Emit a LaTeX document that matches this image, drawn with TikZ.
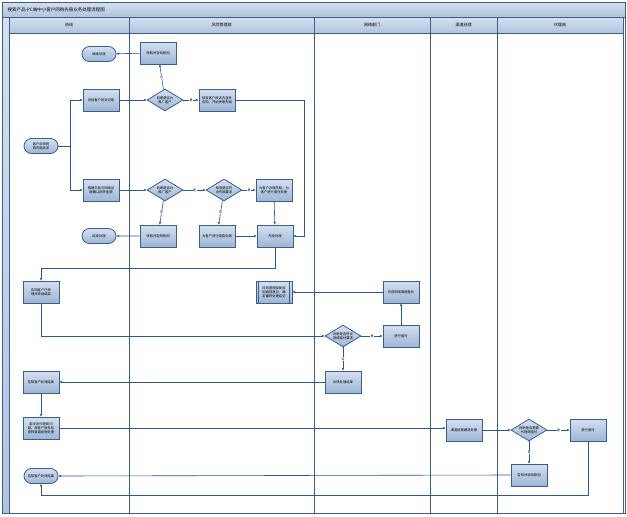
\documentclass[tikz,border=0pt]{standalone}
\usepackage{fontspec}
\newfontfamily\cjk{Noto Sans CJK SC}
\XeTeXlinebreaklocale "zh"
\XeTeXlinebreakskip = 0pt
\usetikzlibrary{shapes.geometric,shapes.misc,arrows.meta}
\definecolor{ln}{HTML}{2F5597}
\definecolor{bd}{HTML}{3A5F8F}
\definecolor{fa}{HTML}{D3E0F0}
\definecolor{fb}{HTML}{9DB5D5}
\begin{document}
\begin{tikzpicture}[x=1pt,y=-1pt,font=\cjk\fontsize{3.3}{4}\selectfont,
 box/.style={draw=bd,line width=0.8pt,top color=fa,bottom color=fb,minimum width=36pt,minimum height=22pt,text width=30pt,align=center,inner sep=1pt},
 term/.style={draw=bd,line width=0.8pt,top color=fa,bottom color=fb,rounded rectangle,minimum width=36pt,minimum height=15pt,text width=30pt,align=center,inner sep=1pt},
 dia/.style={draw=bd,line width=0.8pt,top color=fa,bottom color=fb,diamond,aspect=1.6,minimum width=36pt,minimum height=22pt,inner sep=0pt,text width=20pt,align=center},
 ar/.style={draw=ln,line width=0.6pt,-{Stealth[length=3pt,width=2.5pt]}},
 lab/.style={fill=white,inner sep=0.5pt,font=\cjk\fontsize{3}{3}\selectfont},
 lane/.style={draw=bd,line width=0.9pt},
 hd/.style={draw=bd,line width=0.8pt,top color=fa,bottom color=fb!80}]
\useasboundingbox (0,0) rectangle (627,517);
\fill[white] (0,0) rectangle (627,517);
% frame
\draw[hd] (2,2) rectangle (625,17);
\node[anchor=west,font=\cjk\fontsize{4.5}{5}\selectfont] (title) at (4,9.5) {搜索产品-PC端中小客户网购先赔业务处理流程图};
\draw[hd] (2,17) rectangle (9,513);
\foreach \a/\b/\t [count=\i] in {9/129/热线,129/314/风险管理部,314/430/网络部门,430/497/渠道经理,497/623/代理商}{
 \draw[hd] (\a,17) rectangle (\b,33);
 \node[font=\cjk\fontsize{4}{5}\selectfont] (h\i) at ({(\a+\b)/2},25) {\t};
 \draw[lane] (\a,33) rectangle (\b,513);
}
\draw[lane] (2,2) rectangle (625,513);
% nodes
\node[term] (end1) at (99,54) {继续处理};
\node[box] (r1) at (158,53) {领取并告知原因};
\node[term] (start) at (41,146) {客户反映网购先赔诉求};
\node[box] (hA) at (101,100) {添加客户投诉记录};
\node[dia] (d1) at (165,100) {判断是否为推广客户};
\node[box] (r2) at (217,100) {核查客户投诉内容并告知，开始受理先赔};
\node[box] (hB) at (101,190) {根据交易与网络证据确认损失金额};
\node[dia] (d2) at (165,190) {判断是否为推广客户};
\node[dia] (d3) at (224,190) {核查是否符合先赔要求};
\node[box] (r3) at (274,190) {为客户办理先赔，为客户进行赔付处理};
\node[term] (end2) at (99,236) {结束处理};
\node[box] (r4) at (158,236) {领取并告知原因};
\node[box] (r5) at (217,236) {为客户进行赔偿处理};
\node[box] (r6) at (275,236) {先赔处理};
\node[box] (hC) at (41,292) {告知客户已受理并转网络部};
\node[box] (r7) at (274,292) {风险管理部复核网络部意见，确定最终处理结论};
\draw[bd,line width=0.6pt] ([xshift=3pt]r7.north west) -- ([xshift=3pt]r7.south west) ([xshift=-3pt]r7.north east) -- ([xshift=-3pt]r7.south east);
\node[box] (n1) at (401,292) {完成网络数据备份};
\node[dia] (d4) at (343,336) {判断是否符合网络赔付要求};
\node[box] (n2) at (401,336) {进行赔付};
\node[box] (n3) at (343,382) {反馈处理结果};
\node[box] (hD) at (41,382) {告知客户处理结果};
\node[box] (hE) at (41,428) {若涉及代理商问题，将客户联系信息转渠道经理处理};
\node[box] (c1) at (464,430) {渠道经理跟进处理};
\node[dia] (d5) at (529,430) {判断是否需要代理商赔付};
\node[box] (a1) at (588,430) {进行赔付};
\node[box] (a2) at (529,475) {告知并说明原因};
\node[term] (hF) at (41,476) {告知客户处理结果};
% edges
\coordinate (j) at (70,146);
\draw[draw=ln,line width=0.6pt] (start.east) -- (j);
\draw[ar] (j) |- (hA.west);
\draw[ar] (j) |- (hB.west);
\draw[ar] (hA) -- (d1);
\draw[ar] (d1) -- node[lab]{否} (r1);
\draw[ar] (r1) -- (end1);
\draw[ar] (d1) -- node[lab]{是} (r2);
\draw[ar] (r2.east) -- (304,100) |- (r6.east);
\draw[ar] (hB) -- (d2);
\draw[ar] (d2) -- node[lab]{是} (d3);
\draw[ar] (d2) -- node[lab]{否} (r4);
\draw[ar] (r4) -- (end2);
\draw[ar] (d3) -- node[lab]{是} (r3);
\draw[ar] (d3) -- node[lab]{否} (r5);
\draw[ar] (r3) -- (r6);
\draw[ar] (r5) -- (r6);
\draw[ar] (r6.south) -- (275,268) -| (hC.north);
\draw[ar] (hC.south) |- (d4.west);
\draw[ar] (d4) -- node[lab]{是} (n2);
\draw[ar] (d4) -- node[lab]{否} (n3);
\draw[ar] (n2) -- (n1);
\draw[ar] (n1) -- (r7);
\draw[ar] (n3) -- (hD);
\draw[ar] (hD) -- (hE);
\draw[ar] (hE.east) -- (hE.east -| c1.west);
\draw[ar] (c1) -- (d5);
\draw[ar] (d5) -- node[lab]{是} (a1);
\draw[ar] (d5) -- node[lab]{否} (a2);
\draw[ar] (a2.west) -- (hF.east);
\draw[ar] (a1.south) -- (588,495) -| (hF.south);
\end{tikzpicture}
\end{document}
